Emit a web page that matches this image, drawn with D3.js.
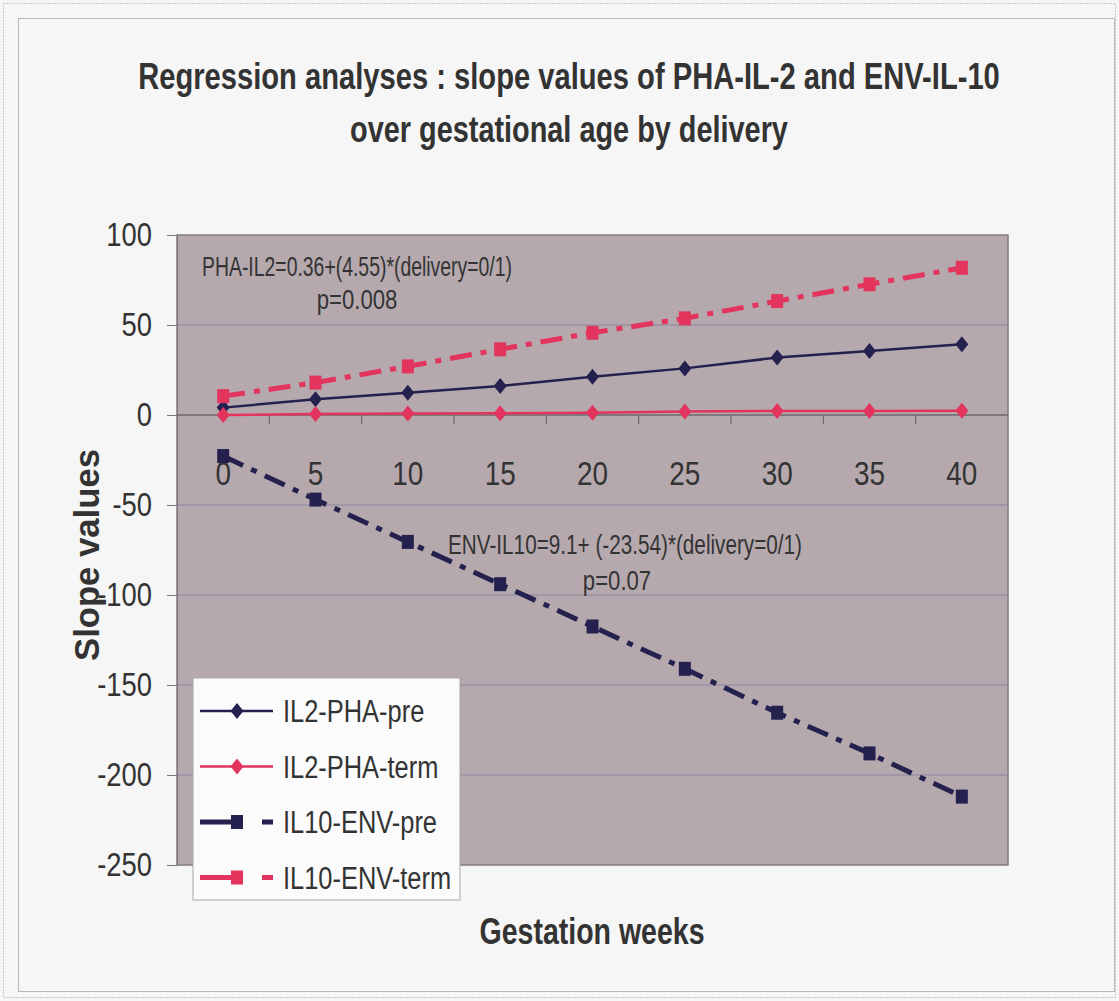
<!DOCTYPE html>
<html>
<head>
<meta charset="utf-8">
<script src="https://cdn.jsdelivr.net/npm/d3@7"></script>
<style>
  html, body { margin: 0; padding: 0; background: #f6f6f6; }
  svg { display: block; font-family: "Liberation Sans Narrow", "Arial Narrow", "Liberation Sans", Arial, sans-serif; }
</style>
</head>
<body>
<svg id="chart" width="1119" height="1001"></svg>
<script>
// data
const weeks = [0, 5, 10, 15, 20, 25, 30, 35, 40];
const il2Pre = [4.1, 8.7, 12.4, 16.1, 21.3, 25.9, 31.9, 35.6, 39.3];
const il2Term = [0, 0.5, 0.8, 1, 1.2, 2, 2.2, 2.2, 2.3];
const il10Pre = [-22.8, -47, -70.5, -94, -117.5, -141, -165.4, -188, -212];
const il10Term = [10.5, 18, 27, 36.5, 45.7, 53.7, 63.3, 72.6, 81.8];
const yTicks = [100, 50, 0, -50, -100, -150, -200, -250];
const seriesNames = ["IL2-PHA-pre", "IL2-PHA-term", "IL10-ENV-pre", "IL10-ENV-term"];
const titleLines = ["Regression analyses : slope values of PHA-IL-2 and ENV-IL-10", "over gestational age by delivery"];
const note1 = ["PHA-IL2=0.36+(4.55)*(delivery=0/1)", "p=0.008"];
const note2 = ["ENV-IL10=9.1+ (-23.54)*(delivery=0/1)", "p=0.07"];

const NAVY = "#24214f", RED = "#e2345c";
const styles = [
  { color: NAVY, width: 2.5, dash: null, marker: "diamond" },
  { color: RED, width: 2.5, dash: null, marker: "diamond" },
  { color: NAVY, width: 5, dash: "22,9,6,9", marker: "square" },
  { color: RED, width: 5, dash: "22,9,6,9", marker: "square" }
];
const series = [il2Pre, il2Term, il10Pre, il10Term];

const svg = d3.select("#chart");
const L = 177, R = 1008, T = 235, B = 865;

// the original uses a condensed face: squeeze texts to a width, or by a factor
function fit(sel, w) { sel.attr("textLength", w).attr("lengthAdjust", "spacingAndGlyphs"); return sel; }
function condense(sel, k) {
  sel.each(function () { d3.select(this).attr("textLength", this.getComputedTextLength() * k).attr("lengthAdjust", "spacingAndGlyphs"); });
  return sel;
}
// squeeze by a horizontal scale so the drawn box really is the target width
function squeeze(g, w) {
  const t = g.select("text").node();
  const k = w / t.getComputedTextLength();
  g.attr("transform", g.attr("transform") + ` scale(${k},1)`);
}

// frames
svg.append("rect").attr("x", 3.5).attr("y", 3.5).attr("width", 1112).attr("height", 994)
  .attr("fill", "none").attr("stroke", "#999").attr("stroke-dasharray", "1,2");
svg.append("rect").attr("x", 18.5).attr("y", 18.5).attr("width", 1096).attr("height", 973)
  .attr("fill", "#f6f6f6").attr("stroke", "#b8b8b8");

const x = d3.scaleBand().domain(weeks).range([L, R]);
const y = d3.scaleLinear().domain([-250, 100]).range([B, T]);
const cx = d => x(d) + x.bandwidth() / 2;

// plot area
svg.append("rect").attr("x", L).attr("y", T).attr("width", R - L).attr("height", B - T)
  .attr("fill", "#b5a9ae").attr("stroke", "#857a80").attr("stroke-width", 1.5);

// gridlines
svg.append("g").selectAll("line").data(yTicks.filter(v => v !== 0 && v !== 100 && v !== -250)).join("line")
  .attr("x1", L).attr("x2", R).attr("y1", d => y(d)).attr("y2", d => y(d))
  .attr("stroke", "#8c84a0").attr("stroke-width", 1);

// y axis
const yAxis = svg.append("g").attr("transform", `translate(${L},0)`)
  .call(d3.axisLeft(y).tickValues(yTicks).tickFormat(d => String(d)).tickSize(10).tickPadding(15));
yAxis.select(".domain").attr("stroke", "#777");
yAxis.selectAll(".tick line").attr("stroke", "#777");
yAxis.selectAll(".tick text").attr("font-size", 33).attr("fill", "#333").attr("font-family", null);
condense(yAxis.selectAll(".tick text"), 0.83);

// zero axis with ticks at band edges
svg.append("line").attr("x1", L).attr("x2", R).attr("y1", y(0)).attr("y2", y(0))
  .attr("stroke", "#6e6a6c").attr("stroke-width", 1.5);
svg.append("g").selectAll("line").data(weeks.slice(1)).join("line")
  .attr("x1", d => x(d)).attr("x2", d => x(d)).attr("y1", y(0)).attr("y2", y(0) + 9)
  .attr("stroke", "#6e6a6c").attr("stroke-width", 1.2);
condense(svg.append("g").selectAll("text").data(weeks).join("text")
  .attr("x", d => cx(d)).attr("y", y(0) + 70).attr("text-anchor", "middle")
  .attr("font-size", 34).attr("fill", "#333").text(d => d), 0.82);

// annotations
fit(svg.append("text").attr("x", 202).attr("y", 276).attr("font-size", 27).attr("fill", "#333").text(note1[0]), 310);
condense(svg.append("text").attr("x", 357).attr("y", 309).attr("text-anchor", "middle").attr("font-size", 27).attr("fill", "#333").text(note1[1]), 0.82);
fit(svg.append("text").attr("x", 448).attr("y", 554).attr("font-size", 27).attr("fill", "#333").text(note2[0]), 354);
condense(svg.append("text").attr("x", 617).attr("y", 590).attr("text-anchor", "middle").attr("font-size", 27).attr("fill", "#333").text(note2[1]), 0.82);

// markers
function marker(g, kind, color, px, py) {
  if (kind === "diamond") {
    g.append("path").attr("d", `M${px},${py - 8}L${px + 6.5},${py}L${px},${py + 8}L${px - 6.5},${py}Z`).attr("fill", color);
  } else {
    g.append("rect").attr("x", px - 6).attr("y", py - 7).attr("width", 12).attr("height", 14).attr("fill", color);
  }
}

const line = d3.line().x((d, i) => cx(weeks[i])).y(d => y(d));
const plotG = svg.append("g");
series.forEach((vals, s) => {
  const st = styles[s];
  plotG.append("path").attr("d", line(vals)).attr("fill", "none")
    .attr("stroke", st.color).attr("stroke-width", st.width)
    .attr("stroke-dasharray", st.dash);
  vals.forEach((v, i) => marker(plotG, st.marker, st.color, cx(weeks[i]), y(v)));
});

// legend
const lg = svg.append("g");
lg.append("rect").attr("x", 193).attr("y", 678).attr("width", 267).attr("height", 222)
  .attr("fill", "#fbfbfb").attr("stroke", "#a8a8a8");
seriesNames.forEach((name, i) => {
  const st = styles[i], ly = 711 + i * 55.5;
  if (st.dash) {
    lg.append("line").attr("x1", 200).attr("x2", 232).attr("y1", ly).attr("y2", ly).attr("stroke", st.color).attr("stroke-width", st.width);
    lg.append("line").attr("x1", 262).attr("x2", 273).attr("y1", ly).attr("y2", ly).attr("stroke", st.color).attr("stroke-width", st.width);
  } else {
    lg.append("line").attr("x1", 200).attr("x2", 273).attr("y1", ly).attr("y2", ly).attr("stroke", st.color).attr("stroke-width", st.width);
  }
  marker(lg, st.marker, st.color, 237, ly);
  condense(lg.append("text").attr("x", 283).attr("y", ly + 11).attr("font-size", 31).attr("fill", "#333").text(name), 0.82);
});

// titles
titleLines.forEach((t, i) => {
  const g = svg.append("g").attr("transform", `translate(569,${89 + i * 53})`);
  g.append("text").attr("text-anchor", "middle")
    .attr("font-size", 37).attr("font-weight", "bold").attr("fill", "#333").text(t);
  squeeze(g, i === 0 ? 862 : 438);
});
fit(svg.append("text").attr("x", 592).attr("y", 944).attr("text-anchor", "middle")
  .attr("font-size", 36).attr("font-weight", "bold").attr("fill", "#333").text("Gestation weeks"), 225);
fit(svg.append("text").attr("transform", "translate(99,555) rotate(-90)").attr("text-anchor", "middle")
  .attr("font-size", 35).attr("font-weight", "bold").attr("fill", "#333").text("Slope values"), 212);
</script>
</body>
</html>
